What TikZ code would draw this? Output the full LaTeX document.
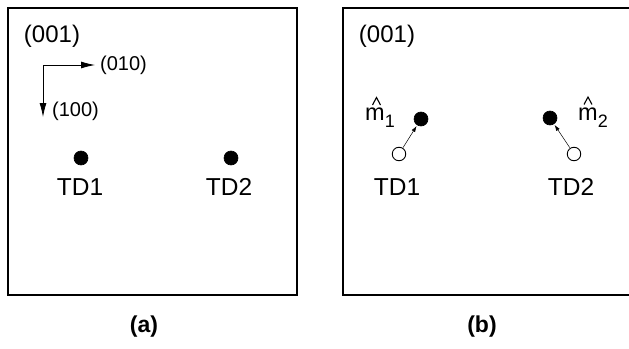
\documentclass[tikz,border=0pt]{standalone}
\usepackage{fontspec}
\setmainfont{Liberation Sans}
\usetikzlibrary{arrows.meta}
\tikzset{
  frame/.style={draw, line width=1.4pt},
  bigarrow/.style={line width=0.8pt, -{Latex[length=14pt,width=7pt]}},
  smallarrow/.style={line width=0.5pt, -{Latex[length=6pt,width=4pt]}, shorten >=1pt, shorten <=0.5pt},
  fulldot/.style={circle, fill=black, draw=black, line width=0.6pt, minimum size=14pt, inner sep=0pt},
  opendot/.style={circle, fill=white, draw=black, line width=0.9pt, minimum size=13.5pt, inner sep=0pt},
  lbl/.style={inner sep=0pt, font=\fontsize{24}{27}\selectfont},
  axlbl/.style={inner sep=0pt, font=\fontsize{20}{23}\selectfont},
  tdlbl/.style={inner sep=0pt, font=\fontsize{24.5}{28}\selectfont},
  mlbl/.style={inner sep=0pt, anchor=base west, font=\fontsize{23.5}{26}\selectfont},
  hatline/.style={line width=1.1pt, line join=miter},
  caplbl/.style={inner sep=0pt, font=\fontsize{23}{26}\selectfont\bfseries},
}
\begin{document}
\begin{tikzpicture}[x=1pt,y=-1pt]
\useasboundingbox (0,0) rectangle (629,348);
% panel (a)
\draw[frame] (8,8) rectangle (297,295);
\node[lbl] (a001) at (52,36) {(001)};
\coordinate (corner) at (43,65);
\node[axlbl, anchor=west] (a010) at (100,65) {(010)};
\node[axlbl, anchor=west] (a100) at (52,111) {(100)};
\coordinate (xend) at (95,65);
\coordinate (yend) at (43,117);
\draw[bigarrow] (corner) -- (xend);
\draw[bigarrow] (corner) -- (yend);
\node[fulldot] (ad1) at (81,158) {};
\node[fulldot] (ad2) at (231,158) {};
\node[tdlbl] (atd1) at (80,187) {TD1};
\node[tdlbl] (atd2) at (229,187) {TD2};
\node[caplbl] (capa) at (144,327) {(a)};
% panel (b)
\draw[frame] (343,8) rectangle (640,295);
\node[lbl] (b001) at (387,36) {(001)};
\node[fulldot] (bf1) at (421,119) {};
\node[opendot] (bo1) at (399,154) {};
\node[fulldot] (bf2) at (550,118) {};
\node[opendot] (bo2) at (574,154) {};
\draw[smallarrow] (bo1) -- (bf1);
\draw[smallarrow] (bo2) -- (bf2);
\node[mlbl] (m1) at (365,120) {m\raisebox{-7pt}{\fontsize{18}{20}\selectfont 1}};
\node[mlbl] (m2) at (578,120) {m\raisebox{-7pt}{\fontsize{18}{20}\selectfont 2}};
\draw[hatline] (372.5,105) -- (376.5,97.5) -- (380.5,105);
\draw[hatline] (584,104.5) -- (588,97) -- (592,104.5);
\node[tdlbl] (btd1) at (397,187) {TD1};
\node[tdlbl] (btd2) at (571,187) {TD2};
\node[caplbl] (capb) at (482,327) {(b)};
\end{tikzpicture}
\end{document}
